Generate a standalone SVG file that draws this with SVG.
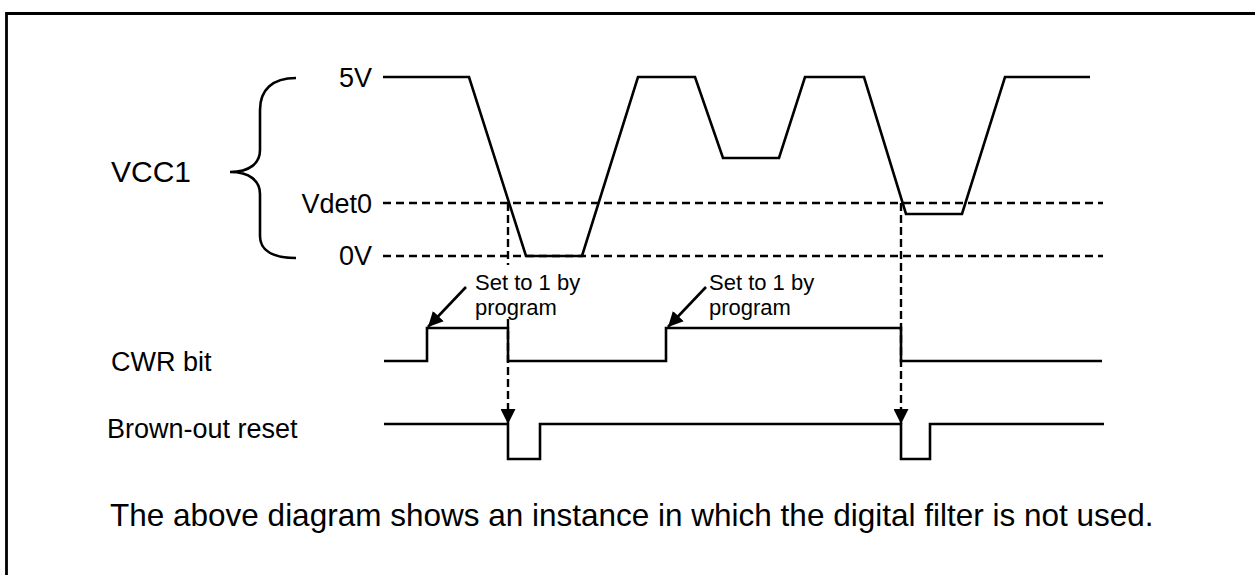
<svg xmlns="http://www.w3.org/2000/svg" width="1255" height="575" viewBox="0 0 1255 575">
<defs>
<style>
text{font-family:"Liberation Sans",Arial,sans-serif;fill:#000}
.sig{fill:none;stroke:#000;stroke-width:2.6;stroke-linejoin:miter}
.dash{fill:none;stroke:#000;stroke-width:2.6;stroke-dasharray:8 5}
.vdash{fill:none;stroke:#000;stroke-width:2.4;stroke-dasharray:8 4}
.lvl{font-size:27px;text-anchor:end}
.note{font-size:22px}
</style>
<marker id="ah" viewBox="0 0 10 10" refX="10" refY="5" markerWidth="15" markerHeight="15" markerUnits="userSpaceOnUse" orient="auto">
<path d="M0,0 L10,5 L0,10 z" fill="#000"/>
</marker>
</defs>
<rect width="1255" height="575" fill="#fff"/>
<path d="M6.5,580 L6.5,13.5 L1260,13.5" fill="none" stroke="#000" stroke-width="2.8"/>

<g id="vcc1">
<text x="111" y="182" font-size="30">VCC1</text>
<path class="sig" stroke-width="2.2" d="M296,78 C272,78 260,90 260,110 L260,150 C260,163 250,172 230,172 C250,172 260,181 260,194 L260,236 C260,250 272,258 296,258"/>
<text class="lvl" x="372" y="87">5V</text>
<text class="lvl" x="372" y="213">Vdet0</text>
<text class="lvl" x="372" y="265">0V</text>
<polyline class="sig" points="383,77 469,77 526,256 582,256 638,77 695,77 723,158 779,158 805,77 864,77 906,214 962,214 1005,77 1090,77"/>
<line class="dash" x1="383" y1="203" x2="1103" y2="203"/>
<line class="dash" x1="383" y1="256" x2="1103" y2="256"/>
</g>

<g id="cwr">
<text x="111" y="371" font-size="27">CWR bit</text>
<polyline class="sig" points="384,361 427,361 427,328 508,328 508,361 666,361 666,328 901,328 901,361 1102,361"/>
</g>

<g id="bor">
<text x="107" y="438" font-size="27">Brown-out reset</text>
<polyline class="sig" points="384,424 508,424 508,459 540,459 540,424 901,424 901,459 930,459 930,424 1104,424"/>
</g>

<g id="note1">
<text class="note" x="475" y="290">Set to 1 by</text>
<text class="note" x="475" y="314.8">program</text>
</g>
<g id="note2">
<text class="note" x="709" y="290">Set to 1 by</text>
<text class="note" x="709" y="314.8">program</text>
</g>

<g id="connectors">
<line class="vdash" x1="508" y1="203" x2="508" y2="265"/>
<line class="vdash" x1="508" y1="319" x2="508" y2="424" marker-end="url(#ah)"/>
<line class="vdash" x1="901" y1="203" x2="901" y2="424" marker-end="url(#ah)"/>
<line x1="466" y1="287" x2="428" y2="327" stroke="#000" stroke-width="2.6" marker-end="url(#ah)"/>
<line x1="706" y1="287" x2="668" y2="327" stroke="#000" stroke-width="2.6" marker-end="url(#ah)"/>
</g>

<text x="110" y="526" font-size="31.5">The above diagram shows an instance in which the digital filter is not used.</text>
</svg>
